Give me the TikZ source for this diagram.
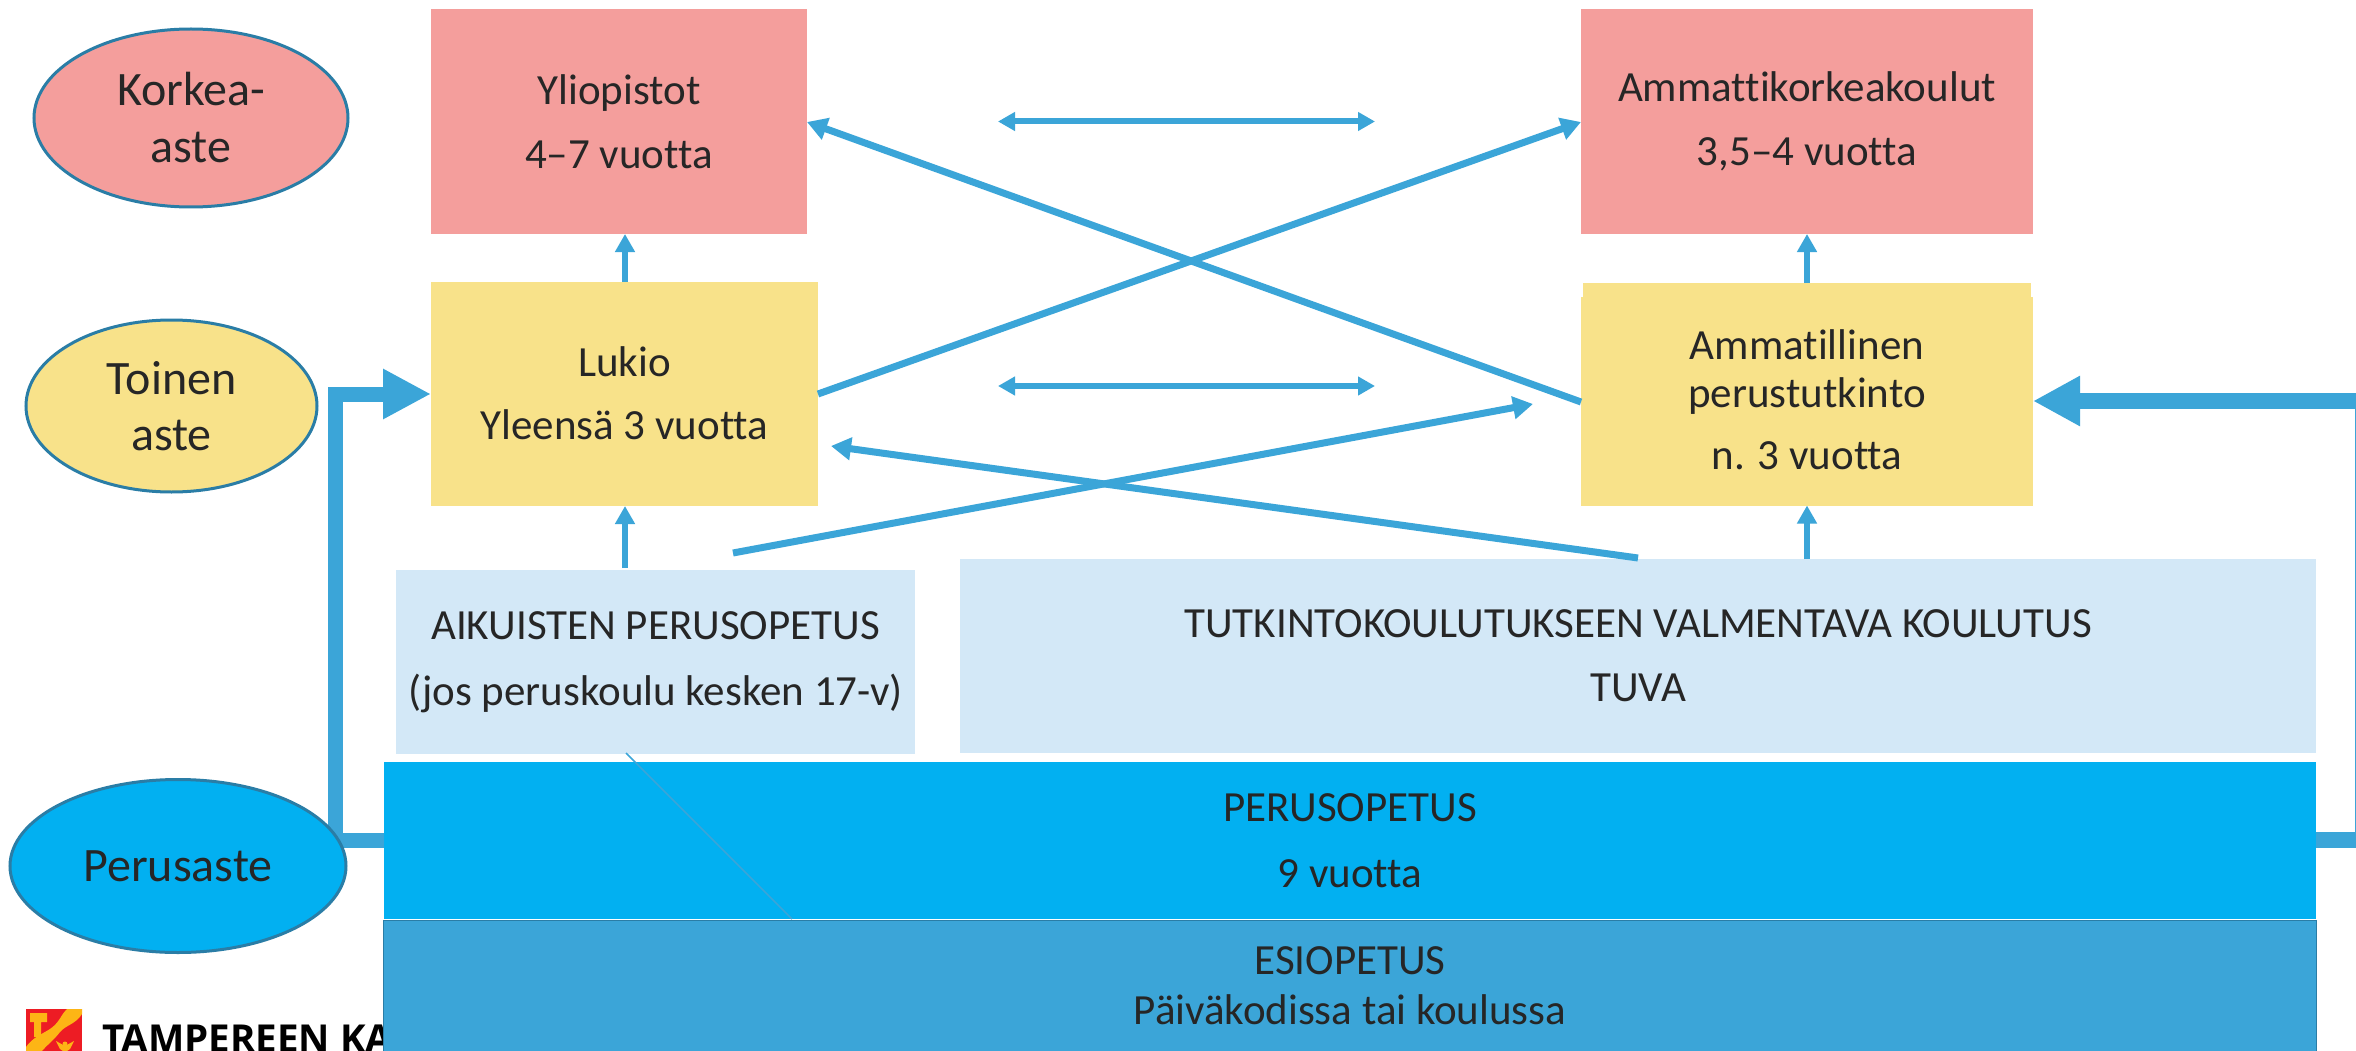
\documentclass[tikz,border=0pt]{standalone}
\usepackage{fontspec}
\setmainfont{Carlito}[Ligatures=NoCommon]
\newfontfamily\logofont{Open Sans}
\usetikzlibrary{arrows.meta,shapes.geometric,calc}
\definecolor{flow}{HTML}{3BA5D8}
\definecolor{pinkbox}{HTML}{F49E9C}
\definecolor{yellowbox}{HTML}{F8E28A}
\definecolor{palebox}{HTML}{D3E8F7}
\definecolor{cyanbox}{HTML}{02B0F1}
\definecolor{ringc}{HTML}{2A7DA6}
\definecolor{textc}{HTML}{262626}
\definecolor{logored}{HTML}{ED1C24}
\definecolor{logogold}{HTML}{FDB515}
\tikzset{
  x=1pt,y=-1pt,
  every node/.style={text=textc,inner sep=0pt,outer sep=0pt,align=center,font=\fontsize{43}{50}\selectfont},
  level/.style={ellipse,draw=ringc,line width=3pt,font=\fontsize{48}{57}\selectfont},
  thin flow/.style={draw=flow,line width=5.5pt,-{Triangle[length=18pt,width=19pt]}},
  diag flow/.style={draw=flow,line width=7pt,-{Triangle[length=20pt,width=22pt]}},
  both flow/.style={draw=flow,line width=6pt,{Triangle[length=17pt,width=18pt]}-{Triangle[length=17pt,width=18pt]}},
}
\begin{document}
\begin{tikzpicture}
\useasboundingbox (0,0) rectangle (2356,1051);
\fill[white] (0,0) rectangle (2356,1051);

% logo
\node[anchor=base west,font=\logofont\bfseries\fontsize{38.5}{40}\selectfont,text=black] (logotext) at (102,1052) {TAMPEREEN KAUPUNKI};
\fill[logored] (26,1009) rectangle (82,1051);
\path[fill=logogold] (67,1009) .. controls (60,1016) and (60,1022) .. (50,1029) .. controls (42,1034) and (32,1038) .. (26,1047) -- (26,1051) -- (42,1051) .. controls (48,1044) and (54,1040) .. (60,1032) .. controls (66,1025) and (76,1024) .. (82,1014) -- (82,1009) -- cycle;
\fill[logogold] (30,1013) rectangle (47,1022) (34,1022) rectangle (41,1037);
\fill[logogold] (56,1041) -- (65,1046) -- (74,1041) -- (70,1049) -- (67,1051) -- (63,1051) -- (60,1049) -- cycle;
\fill[logogold] (65,1044) circle (2.5);

% thick routes behind the ellipse
\coordinate (leftcorner) at (335.5,840);
\coordinate (leftup) at (335.5,394);
\coordinate (rightfoot) at (2356,840);
\coordinate (rightedge) at (2356,401);
\coordinate (pbl) at (384,840);
\coordinate (pbr) at (2316,840);
\coordinate (railtop) at (2355.3,409);
\coordinate (railfoot) at (2355.3,832);

% level ellipses
\node[level,fill=pinkbox,minimum width=314pt,minimum height=178pt] (korkea) at (191,118) {\raisebox{-3pt}{Korkea-}\\\raisebox{-3pt}{aste}};
\node[level,fill=yellowbox,minimum width=291pt,minimum height=172pt] (toinen) at (171.5,406) {\raisebox{-1pt}{Toinen}\\aste};
\draw[flow,line width=15pt] (pbl) -- (leftcorner) -- (leftup) -- ++(47,0);
\node[level,fill=cyanbox,minimum width=336pt,minimum height=173pt] (perusaste) at (178,866) {Perusaste};

% boxes
\node[fill=pinkbox,minimum width=376pt,minimum height=225pt] (yo) at (619,121.5) {Yliopistot\\[14pt]4–7 vuotta};
\node[fill=pinkbox,minimum width=452pt,minimum height=225pt] (amk) at (1807,121.5) {\raisebox{-1.5pt}{Ammattikorkeakoulut}\\[14pt]\raisebox{-1.5pt}{3,5–4 vuotta}};
\node[fill=yellowbox,minimum width=387pt,minimum height=224pt] (lukio) at (624.5,394) {\raisebox{1.5pt}{Lukio}\\[13pt]\raisebox{1.5pt}{Yleensä 3 vuotta}};
\fill[yellowbox] (1583,283) rectangle (2031,300);
\node[fill=yellowbox,minimum width=452pt,minimum height=209pt] (amm) at (1807,401) {\raisebox{1pt}{Ammatillinen}\\[-2pt]\raisebox{1pt}{perustutkinto}\\[13pt]\raisebox{2pt}{n. 3 vuotta}};
\node[fill=palebox,minimum width=519pt,minimum height=184pt] (aik) at (655.5,662) {AIKUISTEN PERUSOPETUS\\[16pt](jos peruskoulu kesken 17-v)};
\node[fill=palebox,minimum width=1356pt,minimum height=194pt] (tuva) at (1638,656) {TUTKINTOKOULUTUKSEEN VALMENTAVA KOULUTUS\\[14pt]TUVA};

\draw[flow,line width=16pt] (pbr) -- (rightfoot);
\draw[flow,line width=1.5pt] (railtop) -- (railfoot);

\node[fill=cyanbox,minimum width=1932pt,minimum height=157.5pt] (perus) at (1350,840.5) {PERUSOPETUS\\[16pt]9 vuotta};
\node[fill=flow,draw=ringc,line width=1.5pt,minimum width=1933pt,minimum height=140pt,anchor=north] (esi) at (1350,920) {};
\node[anchor=north] (esitext) at (1350,947) {ESIOPETUS\\Päiväkodissa tai koulussa};
\draw[white,line width=1.5pt] (383,919.5) -- (2317,919.5);

% vertical arrows
\draw[thin flow] (625,568) -- (lukio.south -| 625,0);
\draw[thin flow] (lukio.north -| 625,0) -- (yo.south -| 625,0);
\draw[thin flow] (tuva.north -| amm.south) -- (amm.south);
\draw[thin flow] (1807,283) -- (amk.south);

% thick arrow heads
\draw[flow,line width=15pt,-{Triangle[length=48pt,width=47pt]}] (340,394) -- (lukio.west);
\draw[flow,line width=16pt,-{Triangle[length=47pt,width=47pt]}] (rightedge) -- (amm.east);

% diagonals
\coordinate (ldia) at (818,394);
\coordinate (amkin) at (1581,122);
\coordinate (rdia) at (1581,402);
\coordinate (yoin) at (807,122);
\coordinate (aikout) at (733,553);
\coordinate (ammin) at (1533,404);
\coordinate (tuvaout) at (1638,558);
\coordinate (lukin) at (831,446);
\draw[diag flow] (ldia) -- (amkin);
\draw[diag flow] (rdia) -- (yoin);
\draw[diag flow] (aikout) -- (ammin);
\draw[diag flow] (tuvaout) -- (lukin);

% double arrows
\coordinate (da1) at (998,121.5);
\coordinate (db1) at (1375,121.5);
\coordinate (da2) at (998,386);
\coordinate (db2) at (1375,386);
\draw[both flow] (da1) -- (db1);
\draw[both flow] (da2) -- (db2);

% hairline
\coordinate (ha) at (626,753);
\coordinate (hb) at (792,919);
\draw[flow,line width=1.5pt] (ha) -- (hb);
\end{tikzpicture}
\end{document}
